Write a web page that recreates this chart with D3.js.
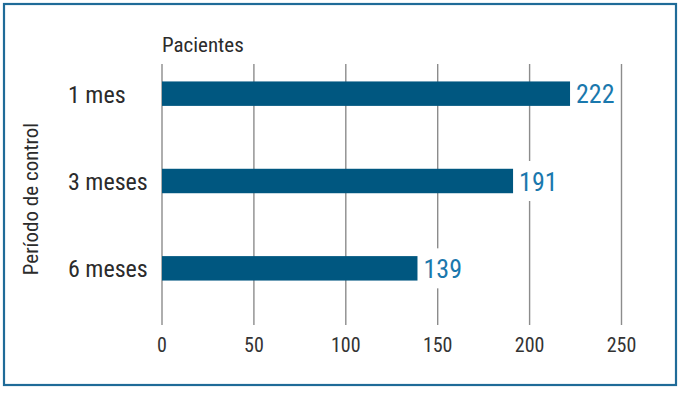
<!DOCTYPE html>
<html lang="es">
<head>
  <meta charset="UTF-8" />
  <title>Pacientes por período de control</title>
  <style>
    html, body { margin: 0; padding: 0; background: #fff; }
    svg { display: block; }
    text { font-family: "Liberation Sans Narrow", "Arial Narrow", "Roboto Condensed", "Liberation Sans", sans-serif; }
  </style>
</head>
<body>
  <div id="chart"></div>
  <script src="https://d3js.org/d3.v7.min.js"></script>
  <script>
    // data
    const categories = ['1 mes', '3 meses', '6 meses'];
    const values = [222, 191, 139];
    const ticks = [0, 50, 100, 150, 200, 250];
    const xTitle = 'Pacientes';
    const yTitle = 'Período de control';

    const width = 683;
    const height = 393;

    const svg = d3.select('#chart')
      .append('svg')
      .attr('width', width)
      .attr('height', height);

    // outer frame
    svg.append('rect')
      .attr('x', 4)
      .attr('y', 4)
      .attr('width', 672)
      .attr('height', 381)
      .attr('fill', '#fff')
      .attr('stroke', '#1f6b98')
      .attr('stroke-width', 2.2);

    const x = d3.scaleLinear()
      .domain([0, 250])
      .range([162, 621.5]);

    const y = d3.scaleBand()
      .domain(categories)
      .range([50, 312])
      .paddingInner(0.72)
      .paddingOuter(0.36);

    // gridlines
    svg.append('g')
      .selectAll('line')
      .data(ticks)
      .join('line')
        .attr('x1', d => x(d))
        .attr('x2', d => x(d))
        .attr('y1', 64)
        .attr('y2', 325)
        .attr('stroke', '#8c8c8c')
        .attr('stroke-width', 1.4);

    // tick labels
    svg.append('g')
      .selectAll('text')
      .data(ticks)
      .join('text')
        .attr('x', d => x(d))
        .attr('y', 352)
        .attr('text-anchor', 'middle')
        .attr('font-size', 20)
        .attr('fill', '#333')
        .text(d => d);

    // bars
    svg.append('g')
      .selectAll('rect')
      .data(values)
      .join('rect')
        .attr('x', x(0))
        .attr('y', (d, i) => y(categories[i]))
        .attr('width', d => x(d) - x(0))
        .attr('height', y.bandwidth())
        .attr('fill', '#005780');

    // value labels with white background cutting the gridlines
    const vl = svg.append('g')
      .selectAll('g')
      .data(values)
      .join('g')
        .attr('transform', (d, i) => `translate(${x(d) + 5},${y(categories[i]) + y.bandwidth() / 2})`);

    vl.append('rect')
      .attr('x', 0)
      .attr('y', -20)
      .attr('width', 40)
      .attr('height', 40)
      .attr('fill', '#fff');

    vl.append('text')
      .attr('x', 1)
      .attr('y', 9.5)
      .attr('font-size', 26)
      .attr('fill', '#1a78ad')
      .text(d => d);

    // category labels
    svg.append('g')
      .selectAll('text')
      .data(categories)
      .join('text')
        .attr('x', 68)
        .attr('y', d => y(d) + y.bandwidth() / 2 + 9)
        .attr('font-size', 24)
        .attr('fill', '#2b2b2b')
        .text(d => d);

    // axis titles
    svg.append('text')
      .attr('x', 162)
      .attr('y', 52)
      .attr('font-size', 21)
      .attr('fill', '#2b2b2b')
      .text(xTitle);

    svg.append('text')
      .attr('transform', 'translate(37.5,199) rotate(-90)')
      .attr('text-anchor', 'middle')
      .attr('font-size', 21)
      .attr('fill', '#2b2b2b')
      .text(yTitle);
  </script>
</body>
</html>
